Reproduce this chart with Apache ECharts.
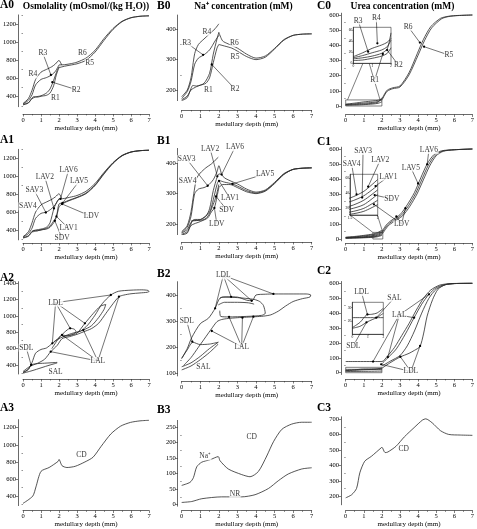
<!DOCTYPE html>
<html><head><meta charset="utf-8">
<script src="https://cdn.jsdelivr.net/npm/echarts@6/dist/echarts.min.js"></script>
<style>html,body{margin:0;padding:0;background:#fff}#c{width:477px;height:529px}</style>
</head><body><div id="c"></div>
<script>
// ================= DATA =================
// Row 0 : A0 osmolality
const A0_R1=[[0,310],[0.3,330],[0.5,385],[0.6,400],[0.8,395],[1,405],[1.3,415],[1.5,440],[1.7,520],[1.85,640],[2,720]];
const A0_R2=[[0,315],[0.3,335],[0.5,378],[0.7,398],[1,410],[1.3,440],[1.5,485],[1.7,580],[1.9,690],[2,730]];
const A0_R3=[[0,320],[0.3,360],[0.5,420],[0.7,530],[1,590],[1.3,610],[1.6,640],[1.8,680],[2,750]];
const A0_R4=[[0,325],[0.3,380],[0.5,470],[0.7,590],[1,670],[1.3,700],[1.6,730],[1.8,760],[2,800],[2.15,748]];
const A0_R5=[[2,720],[2.3,735],[2.7,750],[3,762],[3.5,800],[4,890],[4.5,1020],[5,1140],[5.5,1225],[6,1268],[6.5,1285],[7,1290]];
const A0_R6=[[2,750],[2.3,752],[2.7,765],[3,780],[3.5,825],[4,910],[4.5,1040],[5,1150],[5.5,1230],[6,1270],[6.5,1285],[7,1290]];
const A0_text=[['R3',1.1,880],['R4',0.55,645],['R2',2.95,478],['R1',1.8,385],['R6',3.3,885],['R5',3.7,775]];
const A0_leaders=[[1.1,880,1.55,640],[2.95,478,1.63,560]];
// B0 sodium
const B0_R1=[[0,165],[0.3,175],[0.5,205],[0.6,215],[0.8,213],[1,216],[1.3,222],[1.5,240],[1.7,290],[1.9,338],[2,350]];
const B0_R2=[[0,168],[0.3,180],[0.5,200],[0.8,211],[1.2,222],[1.5,255],[1.7,318],[1.9,368],[2,390]];
const B0_R3=[[0,172],[0.3,195],[0.5,228],[0.7,285],[0.9,305],[1.2,316],[1.5,332],[1.8,362],[2,380]];
const B0_R4=[[0,178],[0.3,200],[0.5,240],[0.7,320],[0.9,350],[1.2,368],[1.5,385],[1.8,402],[2,418]];
const B0_R5=[[2,350],[2.3,345],[2.7,338],[3,328],[3.5,310],[4,300],[4.5,308],[5,335],[5.5,364],[6,380],[6.5,384],[7,385]];
const B0_R6=[[2,390],[2.2,362],[2.5,352],[3,338],[3.5,318],[4,305],[4.5,312],[5,337],[5.5,366],[6,380],[6.5,384],[7,385]];
const B0_text=[['R3',0.27,355],['R4',1.35,392],['R6',2.84,355],['R5',2.87,310],['R2',2.87,203],['R1',1.44,199]];
const B0_leaders=[[0.27,355,1.15,316],[2.87,203,1.62,284]];
// C0 urea
const C0_R1=[[0,5],[0.5,6],[1,9],[1.5,13],[1.8,18],[2,28]];
const C0_R2=[[0,8],[0.5,10],[1,13],[1.5,18],[1.8,26],[2,55]];
const C0_R3=[[0,10],[0.5,14],[1,19],[1.5,24],[1.8,30],[2,42]];
const C0_R4=[[0,12],[0.5,19],[1,27],[1.5,33],[1.8,38],[2,45]];
const C0_R5=[[2,38],[2.15,72],[2.3,98],[2.6,114],[3,125],[3.5,205],[4,335],[4.35,430],[4.75,515],[5.3,575],[5.7,590],[6.2,596],[7,600]];
const C0_R6=[[2,45],[2.15,80],[2.3,105],[2.6,120],[3,132],[3.5,220],[3.96,347],[4.3,440],[4.7,523],[5.24,578],[5.7,592],[6.2,597],[7,600]];
const C0_box=[[0,0],[2,0],[2,40],[0,40],[0,0]];
const C0_zoomLines=[[[0.95,281],[0.1,40]],[[1.3,281],[1.9,40]]];
const C0_text=[['R3',0.69,563],['R4',1.69,578],['R2',2.91,270],['R1',1.6,171],['R6',3.45,523],['R5',5.7,336]];
const C0_leaders=[[0.69,563,1.24,358],[1.69,578,1.75,413],[2.91,270,2.29,369],[1.6,171,2.05,343],[3.45,523,4.1,418],[5.7,336,4.33,391]];
// Row 1 : A1
const A1_SAV4=[[0,325],[0.3,380],[0.5,480],[0.7,600],[1,680],[1.3,712],[1.6,742],[1.8,770],[2,805],[2.15,752]];
const A1_SAV3=[[0,320],[0.3,360],[0.5,420],[0.7,530],[1,585],[1.3,600],[1.6,640],[1.8,685],[2,750]];
const A1_LAV2=[[0,315],[0.3,335],[0.5,385],[0.7,400],[1,410],[1.3,430],[1.5,480],[1.72,641],[1.9,720],[2,745]];
const A1_LAV1=[[0.5,378],[1,400],[1.3,418],[1.5,445],[1.7,500],[1.86,551],[2,690],[2.2,702]];
const A1_SDV=[[0,310],[0.3,330],[0.5,380],[0.6,395],[0.8,392],[1,402],[1.3,410],[1.5,430],[1.77,502],[1.9,580],[2,660]];
const A1_LDV=[[2,660],[2.17,690],[2.5,722],[3,760],[3.5,805],[4,895],[4.5,1025],[5,1143],[5.5,1227],[6,1269],[6.5,1285],[7,1290]];
const A1_LAV5=[[2.2,702],[2.5,728],[3,765],[3.5,812],[4,902],[4.5,1032],[5,1147],[5.5,1229],[6,1270],[6.5,1285],[7,1290]];
const A1_LAV6=[[2,745],[2.08,747],[2.3,752],[2.6,765],[3,785],[3.5,832],[4,918],[4.5,1042],[5,1152],[5.5,1232],[6,1271],[6.5,1285],[7,1290]];
const A1_text=[['SAV4',0.27,664],['SAV3',0.63,842],['LAV2',1.21,992],['LAV6',2.53,1068],['LAV5',3.11,943],['LDV',3.8,551],['LAV1',2.53,419],['SDV',2.17,306]];
const A1_leaders=[[0.63,842,1.27,595],[1.21,992,1.72,641],[2.53,1068,2.08,747],[3.11,943,2.2,702],[3.8,551,2.17,690],[2.53,419,1.86,551],[2.17,306,1.77,502]];
// B1
const B1_SAV4=[[0,175],[0.3,195],[0.5,240],[0.65,300],[0.8,350],[1,368],[1.3,385],[1.6,398],[1.8,410],[1.97,420]];
const B1_SAV3=[[0,172],[0.3,190],[0.5,225],[0.7,300],[0.9,315],[1.2,320],[1.4,326],[1.7,346],[1.9,372],[2,392],[2.15,362]];
const B1_LAV2=[[0,170],[0.3,182],[0.5,205],[0.7,215],[1,215],[1.3,225],[1.5,250],[1.7,310],[1.92,357],[2,365]];
const B1_LAV1=[[0.5,210],[1,214],[1.5,240],[1.7,280],[1.9,330],[2,342],[2.1,342]];
const B1_SDV=[[0,166],[0.3,175],[0.5,200],[0.6,212],[1,212],[1.3,218],[1.5,235],[1.7,265],[1.85,291],[2,330]];
const B1_LDV=[[0,164],[0.3,170],[0.5,195],[1,208],[1.4,220],[1.6,240],[1.76,253],[1.9,290],[2,320]];
const B1_LAV5=[[2.1,342],[2.3,338],[2.73,332],[3,325],[3.5,310],[4,302],[4.5,310],[5,335],[5.5,364],[6,380],[6.5,384],[7,385]];
const B1_LAV6=[[2,365],[2.15,363],[2.3,352],[2.7,340],[3,332],[3.5,315],[4,305],[4.5,312],[5,337],[5.5,366],[6,380],[6.5,384],[7,385]];
const B1_LDV2=[[2,320],[2.2,330],[2.6,330],[3,320],[3.5,306],[4,300],[4.5,308],[5,333],[5.5,363],[6,380],[7,385]];
const B1_text=[['SAV4',0.32,343],['SAV3',0.27,414],['LAV2',1.53,448],['LAV6',2.87,453],['LAV5',4.49,365],['LAV1',2.6,284],['SDV',2.42,247],['LDV',1.89,201]];
const B1_leaders=[[0.27,414,1.4,326],[1.53,448,1.92,357],[2.87,453,2.15,363],[4.49,365,2.73,332],[2.6,284,2.01,342],[2.42,247,1.85,291],[1.89,201,1.76,253]];
// C1
const C1_SAV4=[[0,12],[0.5,17],[1,24],[1.5,33],[1.75,42],[2,58]];
const C1_SAV3=[[0,10],[0.5,14],[1,20],[1.5,28],[1.75,36],[2,50]];
const C1_LAV2=[[0,8],[0.5,11],[1,15],[1.5,22],[1.75,30],[2,44]];
const C1_LAV1=[[0,7],[0.5,9],[1,12],[1.5,18],[1.75,24],[2,38]];
const C1_SDV=[[0,6],[0.5,8],[1,10],[1.5,14],[1.75,19],[2,30]];
const C1_LDV=[[0,5],[0.5,6],[1,8],[1.5,11],[1.75,15],[2,24]];
const C1_LAV6=[[2,50],[2.25,95],[2.5,122],[3,162],[3.4,228],[3.8,310],[4.15,408],[4.5,500],[4.87,562],[5.3,588],[6,595],[7,600]];
const C1_LAV5=[[2,40],[2.3,92],[2.57,118],[3.07,158],[3.47,222],[3.87,305],[4.22,400],[4.57,493],[4.94,558],[5.35,586],[6,595],[7,600]];
const C1_LDV2=[[2,30],[2.35,88],[2.64,114],[3.14,154],[3.54,217],[3.94,300],[4.29,394],[4.64,487],[5.0,555],[5.4,585],[6,595],[7,600]];
const C1_box=[[1.5,0],[2.05,0],[2.05,44],[1.5,44],[1.5,0]];
const C1_zoomLines=[[[0.24,160],[1.5,44]],[[1.75,160],[2.05,44]]];
const C1_text=[['SAV4',0.33,500],['SAV3',0.96,587],['LAV2',1.91,527],['LAV1',2.36,416],['SDV',2.55,267],['LDV',3.09,100],['LAV5',3.6,476],['LAV6',4.6,593]];
const C1_leaders=[[0.33,500,0.6,298],[0.96,587,0.91,276],[1.91,527,1.24,349],[2.36,416,1.65,353],[2.55,267,1.6,293],[3.09,100,1.56,231],[3.09,100,2.8,150],[3.09,100,3.3,205],[3.6,476,4.0,370],[4.6,593,4.5,498]];
// Row 2 : A2
const A2_LDL7=[[0,310],[0.3,350],[0.5,430],[0.7,545],[1,590],[1.3,608],[1.63,665],[2,722],[2.4,762],[2.8,792],[3.2,815],[3.6,890],[4,1010],[4.4,1150],[4.88,1257],[5.3,1302],[6,1316],[6.6,1320],[6.95,1313],[7,1300],[6.9,1290],[6.5,1282],[6,1272],[5.6,1256],[5.33,1236],[5,1150],[4.6,1030],[4.2,910],[3.8,845],[3.35,805],[3,775],[2.6,748],[2.17,722],[1.9,640],[1.54,563],[1.2,470],[0.8,420],[0.4,385],[0,320]];
const A2_L3=[[1.7,680],[2,735],[2.3,800],[2.62,849],[2.85,838],[2.95,805],[2.7,770],[2.4,760],[2.17,767],[1.9,700],[1.6,600]];
const A2_L5=[[2.2,745],[2.6,762],[3,790],[3.44,910],[3.9,1030],[4.3,1120],[4.6,1140],[4.5,1080],[4.2,980],[3.8,880],[3.35,828],[3,800]];
const A2_SDL=[[0,305],[0.3,345],[0.45,400],[0.7,415],[1.2,422],[1.9,432]];
const A2_SAL=[[0,300],[0.5,330],[1,365],[1.5,400],[1.9,425]];
const A2_text=[['LDL',1.81,1163],['LAL',4.16,449],['SDL',0.18,612],['SAL',1.81,310]];
const A2_leaders=[[1.81,1163,1.63,665],[1.81,1163,2.62,849],[1.81,1163,3.44,910],[1.81,1163,4.88,1257],[4.16,449,1.54,563],[4.16,449,2.17,767],[4.16,449,3.35,828],[4.16,449,5.33,1236],[0.18,612,0.45,400]];
// B2
const B2_LDL7=[[0,157],[0.3,195],[0.54,237],[1,290],[1.44,311],[1.8,349],[2.06,388],[2.5,393],[3,392],[3.5,380],[3.8,378],[4,400],[4.5,403],[5,404],[6,404],[6.7,404],[6.95,400],[6.9,392],[6.5,386],[6,375],[5.6,358],[5.2,338],[4.8,324],[4.4,319],[4,317],[3.5,315],[3,313],[2.5,310],[2.15,306],[1.9,298],[1.6,270],[1.3,240],[0.9,200],[0.5,160],[0.1,130]];
const B2_L4=[[2.06,388],[2.2,392],[3,390],[3.9,383],[4.2,375],[4.4,360],[4.5,330],[4.3,322],[3.5,318],[2.5,316],[2.1,318],[2.05,340]];
const B2_L3=[[1.97,362],[2.3,372],[3,372],[3.6,370],[3.9,365]];
const B2_SDL=[[0,157],[0.3,190],[0.6,219],[1,210],[1.5,212],[1.97,219]];
const B2_SAL=[[1.97,219],[1.5,195],[1,165],[0.5,140],[0,125]];
const B2_SAL2=[[1.97,212],[1.5,180],[1,152],[0.5,128],[0,113]];
const B2_text=[['LDL',2.24,475],['LAL',3.23,202],['SDL',0.27,300],['SAL',1.17,125]];
const B2_leaders=[[2.24,475,1.8,349],[2.24,475,2.66,393],[2.24,475,3.77,378],[2.24,475,4.94,404],[3.23,202,1.62,262],[3.23,202,2.55,316],[3.23,202,3.27,313],[3.23,202,3.86,317],[0.27,300,0.57,221]];
// C2
const C2_c1=[[0,75],[2,75],[2.3,110],[2.7,170],[3.1,250],[3.5,330],[3.9,420],[4.3,500],[4.7,555],[5.2,588],[5.8,598],[7,600]];
const C2_c2=[[2,60],[2.33,100],[2.8,160],[3.3,260],[3.78,369],[4.2,460],[4.6,526],[5,570],[5.5,592],[6,598],[7,600]];
const C2_c3=[[2,45],[2.5,80],[3,115],[3.4,180],[3.8,280],[4.2,400],[4.6,500],[5,560],[5.5,590],[6,598]];
const C2_c4=[[2,30],[2.5,70],[3,105],[3.5,130],[3.8,150],[4.1,175],[4.3,260],[4.5,380],[4.8,490],[5.1,560],[5.5,590],[6,598],[7,600]];
const C2_LDLs=[[0,15],[0.5,19],[0.92,24.5],[1.25,25],[1.6,26],[2,29.5]];
const C2_SAL=[[0,14.5],[0.5,16],[1,19.5],[1.57,22.5],[2,25.7]];
const C2_flat=[[0,22.5],[2,22.5]];
const C2_SDL=[[0,8],[1,9],[2,11]];
const C2_box=[[0,0],[2,0],[2,36],[0,36],[0,0]];
const C2_text=[['LDL',0.87,541],['SAL',2.69,503],['SDL',0.42,181],['LAL',2.96,387],['LDL',3.6,8]];
const C2_leaders=[[0.87,541,1.2,391],[2.69,503,1.69,369],[0.42,181,1.15,338],[2.96,387,1.51,75],[2.96,387,2.33,105],[2.96,387,3.78,369],[2.96,387,4.6,526],[3.6,8,1.96,56],[3.6,8,3.02,107],[3.6,8,4.11,180]];
// Row 3
const A3_CD=[[0,316],[0.54,400],[0.72,509],[1.0,690],[1.45,735],[1.95,807],[2.0,829],[2.17,756],[2.44,735],[2.9,749],[3.44,800],[3.89,855],[4.34,982],[4.88,1127],[5.42,1218],[5.97,1262],[6.5,1280],[7,1287]];
const B3_CD=[[0,62],[0.45,72],[0.63,87],[0.81,122],[1.08,137],[1.53,145],[1.97,155],[2.06,142],[2.51,115],[3.23,97],[3.68,90],[4.13,107],[4.58,157],[4.94,203],[5.39,243],[5.92,260],[6.46,266],[7,266]];
const B3_NR=[[0,7],[0.54,10],[1.08,19],[2.15,25],[3.23,25],[3.95,32],[4.67,52],[5.2,77],[5.74,99],[6.46,115],[7,119]];
const C3_CD=[[0,190],[0.33,210],[0.6,251],[0.78,352],[1.05,427],[1.42,459],[1.96,514],[2,518],[2.18,483],[2.33,487],[2.78,524],[3.24,585],[3.78,645],[4.24,694],[4.42,702],[4.78,676],[5.24,625],[5.69,601],[6.33,597],[7,595]];
const A3_text=[['CD',3.25,880]];
const B3_text=[['Na\u207A',1.26,156],['CD',3.77,218],['NR',2.87,35]];
const C3_text=[['CD',3.2,504]];
// tick values
const OSM_L=[400,600,800,1000,1200], OSM_M=[300,500,700,900,1100,1300];
const NA_L=[200,300,400], NA_M=[250,350];
const UR_L=[0,100,200,300,400,500,600], UR_M=[50,150,250,350,450,550];

// ================= BUILD =================
const FONT='"Liberation Serif","Times New Roman",serif';
const LC='#2a2a2a';
const fmt=v=>String(+v.toFixed(2));
const grids=[],xAxes=[],yAxes=[],series=[];
const colA={x0:20,x1:149,axisY:15}, colB={x0:181.7,x1:311.7,axisY:177.7}, colC={x0:345.7,x1:474,axisY:341};

function addPanel(p){
  const gi=grids.length;
  const k=(p.ref[1][1]-p.ref[0][1])/(p.ref[1][0]-p.ref[0][0]);
  const py=v=>p.ref[0][1]+(v-p.ref[0][0])*k;
  const top=py(p.max), bot=py(p.min);
  const ins=!!p.inset;
  grids.push({left:p.x0,top:top,width:p.x1-p.x0,height:bot-top,show:ins,borderColor:LC,borderWidth:0.6,backgroundColor:ins?'#fff':'transparent'});
  const xi=xAxes.length, yi=yAxes.length;
  const fs=ins?3.6:6.5;
  xAxes.push({type:'value',gridIndex:gi,min:p.xmin??0,max:p.xmax??7,interval:p.xint??1,
    offset:ins?0:(p.axisX-bot),
    axisLine:{show:true,onZero:false,lineStyle:{color:LC,width:0.7}},
    axisTick:{show:true,length:ins?1:2.5,lineStyle:{color:LC,width:0.6}},
    minorTick:{show:!ins,splitNumber:2,length:1.5,lineStyle:{color:LC,width:0.5}},
    splitLine:{show:false},minorSplitLine:{show:false},
    axisLabel:{fontSize:fs,fontFamily:FONT,color:'#000',margin:ins?1:2.5,formatter:fmt},
    name:ins?'':'medullary depth (mm)',nameLocation:'middle',nameGap:10.5,
    nameTextStyle:{fontSize:7,fontFamily:FONT,color:'#000'}});
  yAxes.push({type:'value',gridIndex:gi,min:p.min,max:p.max,position:'left',offset:ins?0:(p.x0-p.axisY),
    axisLine:{show:true,onZero:false,lineStyle:{color:LC,width:0.7}},
    axisTick:{show:true,length:ins?1:2.5,customValues:p.yl,lineStyle:{color:LC,width:0.6}},
    axisLabel:{customValues:p.yl,fontSize:fs,fontFamily:FONT,color:'#000',margin:ins?1:2,formatter:fmt},
    splitLine:{show:false}});
  if(p.ym){
    yAxes.push({type:'value',gridIndex:gi,min:p.min,max:p.max,position:'left',offset:p.x0-p.axisY,
      axisLine:{show:false},axisTick:{show:true,length:1.5,customValues:p.ym,lineStyle:{color:LC,width:0.5}},
      axisLabel:{show:false},splitLine:{show:false}});
  }
  (p.curves||[]).forEach(c=>series.push({type:'line',xAxisIndex:xi,yAxisIndex:yi,data:c,showSymbol:false,symbol:'none',
    smooth:0.25,lineStyle:{color:LC,width:0.8},silent:true,z:2}));
  (p.polys||[]).forEach(c=>series.push({type:'line',xAxisIndex:xi,yAxisIndex:yi,data:c,showSymbol:false,symbol:'none',
    smooth:false,lineStyle:{color:LC,width:0.6},silent:true,clip:false,z:2}));
  (p.leaders||[]).forEach(l=>series.push({type:'line',xAxisIndex:xi,yAxisIndex:yi,data:[[l[0],l[1]],[l[2],l[3]]],
    showSymbol:true,showAllSymbol:true,symbol:'circle',symbolSize:(v,pr)=>pr.dataIndex===1?2.3:0,
    itemStyle:{color:'#000'},lineStyle:{color:'#000',width:0.55},silent:true,clip:false,z:3}));
  if(p.text) series.push({type:'scatter',xAxisIndex:xi,yAxisIndex:yi,symbolSize:0,clip:false,silent:true,z:6,
    data:p.text.map(t=>({name:t[0],value:[t[1],t[2]]})),
    label:{show:true,position:'inside',formatter:'{b}',fontSize:7.5,fontFamily:FONT,color:'#000',backgroundColor:'#fff',padding:[0,0.5]}});
}

addPanel({...colA,ref:[[1200,24],[400,96.7]],min:290,max:1300,axisX:114,yl:OSM_L,ym:OSM_M,
  curves:[A0_R1,A0_R2,A0_R3,A0_R4,A0_R5,A0_R6],text:A0_text,leaders:A0_leaders});
addPanel({...colB,ref:[[400,29.3],[200,90]],min:165,max:447,axisX:110,yl:NA_L,ym:NA_M,
  curves:[B0_R1,B0_R2,B0_R3,B0_R4,B0_R5,B0_R6],text:B0_text,leaders:B0_leaders});
addPanel({...colC,ref:[[600,15],[0,106]],min:-12,max:612,axisX:114.5,yl:UR_L,ym:UR_M,
  curves:[C0_R1,C0_R2,C0_R3,C0_R4,C0_R5,C0_R6],polys:[C0_box,...C0_zoomLines],text:C0_text,leaders:C0_leaders});
addPanel({inset:true,x0:353.3,x1:391,ref:[[65,27.3],[0,63.3]],min:0,max:65,xmin:0,xmax:2,xint:1,yl:[0,20,40,60],
  curves:[C0_R1,C0_R2,C0_R3,C0_R4]});

addPanel({...colA,ref:[[1200,158.3],[400,230]],min:290,max:1300,axisX:243,yl:OSM_L,ym:OSM_M,
  curves:[A1_SAV4,A1_SAV3,A1_LAV2,A1_LAV1,A1_SDV,A1_LDV,A1_LAV5,A1_LAV6],text:A1_text,leaders:A1_leaders});
addPanel({...colB,ref:[[400,163.3],[200,224]],min:165,max:449,axisX:242,yl:NA_L,ym:NA_M,
  curves:[B1_SAV4,B1_SAV3,B1_LAV2,B1_LAV1,B1_SDV,B1_LDV,B1_LAV5,B1_LAV6,B1_LDV2],text:B1_text,leaders:B1_leaders});
addPanel({...colC,ref:[[600,149],[0,239]],min:-12,max:612,axisX:243,yl:UR_L,ym:UR_M,
  curves:[C1_SAV4,C1_SAV3,C1_LAV2,C1_LAV1,C1_SDV,C1_LDV,C1_LAV6,C1_LAV5,C1_LDV2],polys:[C1_box,...C1_zoomLines],text:C1_text,leaders:C1_leaders});
addPanel({inset:true,x0:350,x1:377.7,ref:[[65,174.3],[10,215]],min:10,max:65,xmin:1.5,xmax:2,xint:0.5,yl:[20,40,60],
  curves:[C1_SAV4,C1_SAV3,C1_LAV2,C1_LAV1,C1_SDV,C1_LDV]});

addPanel({...colA,ref:[[1400,283.3],[400,365]],min:290,max:1420,axisX:379,yl:[400,600,800,1000,1200,1400],ym:[300,500,700,900,1100,1300],
  curves:[A2_LDL7,A2_L3,A2_L5,A2_SDL,A2_SAL],text:A2_text,leaders:A2_leaders});
addPanel({...colB,ref:[[400,295],[100,373.3]],min:90,max:451,axisX:381,yl:[100,200,300,400],ym:[150,250,350],
  curves:[B2_LDL7,B2_L4,B2_L3,B2_SDL,B2_SAL,B2_SAL2],text:B2_text,leaders:B2_leaders});
addPanel({...colC,ref:[[600,283.3],[0,372.7]],min:-12,max:612,axisX:379,yl:UR_L,ym:UR_M,
  curves:[C2_c1,C2_c2,C2_c3,C2_c4,C2_LDLs,C2_SAL,C2_flat,C2_SDL],polys:[C2_box],text:C2_text,leaders:C2_leaders});
addPanel({inset:true,x0:352.3,x1:383.3,ref:[[34,302.3],[10,334.3]],min:10,max:34,xmin:0,xmax:2,xint:1,yl:[20,30],
  curves:[C2_LDLs,C2_SAL,C2_flat]});

addPanel({...colA,ref:[[1200,428.3],[400,501.7]],min:290,max:1295,axisX:516.7,yl:OSM_L,ym:OSM_M,
  curves:[A3_CD],text:A3_text});
addPanel({...colB,ref:[[250,427.7],[0,510.7]],min:-5,max:272,axisX:516.7,yl:[0,50,100,150,200,250],ym:[25,75,125,175,225],
  curves:[B3_CD,B3_NR],text:B3_text});
addPanel({...colC,ref:[[700,419.3],[200,501.7]],min:145,max:715,axisX:516.5,yl:[200,300,400,500,600,700],ym:[250,350,450,550,650],
  curves:[C3_CD],text:C3_text});

const T=(text,left,top,size,align)=>({text,left,top,padding:0,textAlign:align||'left',
  textStyle:{fontSize:size,fontWeight:'bold',fontFamily:FONT,color:'#000'}});
const titles=[
  T('A0',0,-1,11.5),T('B0',157,0,11.5),T('C0',317,0,11.5),
  T('A1',0,134,11.5),T('B1',157,135,11.5),T('C1',317,136,11.5),
  T('A2',0,272,11.5),T('B2',157,268,11.5),T('C2',317,265,11.5),
  T('A3',0,402,11.5),T('B3',157,404,11.5),T('C3',317,402,11.5),
  T('Osmolality (mOsmol/(kg H\u2082O))',86,2,9.5,'center'),
  T('Na\u207A concentration (mM)',243.5,2,9.5,'center'),
  T('Urea concentration (mM)',402.5,2,9.5,'center')
];

const chart=echarts.init(document.getElementById('c'),null,{renderer:'canvas'});
chart.setOption({animation:false,backgroundColor:'#fff',title:titles,grid:grids,xAxis:xAxes,yAxis:yAxes,series:series});
</script></body></html>
